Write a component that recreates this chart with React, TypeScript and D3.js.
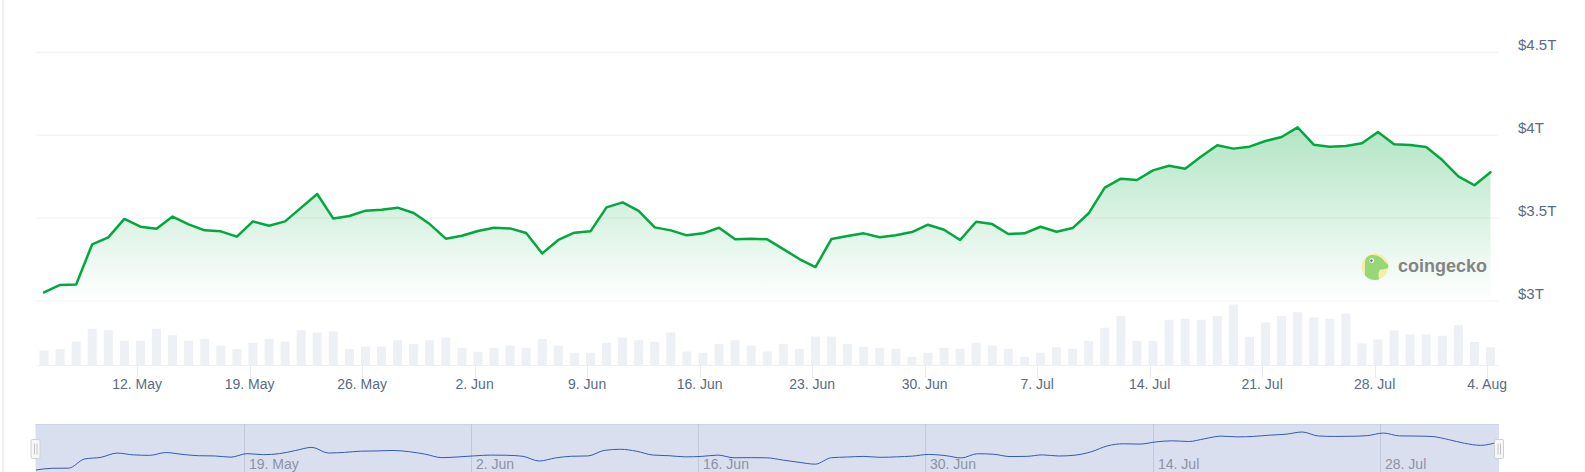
import React from "react";
import * as d3 from "d3";

// ---- DATA ----
const startDate = "2025-05-06T05:00:00Z"; // first daily observation
const marketCapT: number[] = [
  3.052, 3.097, 3.100, 3.342, 3.384, 3.495, 3.448, 3.436, 3.509, 3.462,
  3.426, 3.420, 3.388, 3.480, 3.454, 3.480, 3.563, 3.645, 3.497, 3.513,
  3.545, 3.551, 3.563, 3.531, 3.464, 3.376, 3.394, 3.422, 3.442, 3.438,
  3.410, 3.287, 3.368, 3.412, 3.420, 3.565, 3.595, 3.543, 3.444, 3.426,
  3.396, 3.408, 3.442, 3.372, 3.376, 3.372, 3.313, 3.253, 3.205, 3.374,
  3.392, 3.408, 3.384, 3.396, 3.416, 3.460, 3.430, 3.368, 3.478, 3.464,
  3.404, 3.408, 3.448, 3.418, 3.440, 3.529, 3.684, 3.738, 3.730, 3.788,
  3.816, 3.798, 3.871, 3.939, 3.919, 3.931, 3.965, 3.989, 4.047, 3.943,
  3.931, 3.935, 3.951, 4.019, 3.945, 3.941, 3.929, 3.850, 3.752, 3.698,
  3.776,
];
const volumeB: number[] = [
  58, 64, 93, 145, 139, 97, 97, 145, 119, 97,
  104, 78, 64, 89, 104, 93, 139, 130, 134, 64,
  73, 73, 99, 84, 99, 110, 69, 53, 69, 78,
  69, 104, 78, 49, 49, 89, 110, 99, 93, 130,
  54, 49, 84, 99, 78, 54, 84, 64, 114, 114,
  84, 73, 69, 64, 32, 49, 69, 64, 89, 78,
  64, 32, 49, 71, 65, 96, 149, 196, 96, 96,
  181, 185, 181, 196, 242, 113, 170, 196, 211, 190,
  185, 206, 86, 102, 138, 122, 122, 117, 160, 92,
  71,
];
const yTicks: number[] = [3, 3.5, 4, 4.5];
const yTickLabels: string[] = ["$3T", "$3.5T", "$4T", "$4.5T"];
const mainTickDates: string[] = [
  "2025-05-12", "2025-05-19", "2025-05-26", "2025-06-02", "2025-06-09",
  "2025-06-16", "2025-06-23", "2025-06-30", "2025-07-07", "2025-07-14",
  "2025-07-21", "2025-07-28", "2025-08-04",
];
const navTickDates: string[] = [
  "2025-05-19", "2025-06-02", "2025-06-16", "2025-06-30", "2025-07-14", "2025-07-28",
];

// ---- LAYOUT ----
const W = 1585;
const H = 472;
const PLOT_L = 36;
const PLOT_R = 1499;
const NAV_TOP = 424;

const fmt = d3.utcFormat("%-d. %b");
const FONT = "'Liberation Sans', Arial, sans-serif";

export default function App() {
  const t0 = new Date(startDate);
  const dates = marketCapT.map((_, i) => d3.utcDay.offset(t0, i));
  const data = dates.map((d, i) => ({ d, v: marketCapT[i], vol: volumeB[i] }));

  const x = d3.scaleUtc().domain([dates[0], dates[dates.length - 1]]).range([44, 1490.5]);
  const y = d3.scaleLinear().domain([3, 4.5]).range([301, 52.3]);
  const yv = d3.scaleLinear().domain([0, 256]).range([365, 301]);

  const nx = d3.scaleUtc().domain([dates[0], dates[dates.length - 1]]).range([36, 1497]);
  const ext = d3.extent(marketCapT) as [number, number];
  const ny = d3.scaleLinear().domain(ext).range([470, 432]);

  const line = d3.line<{ d: Date; v: number }>().x((p) => x(p.d)).y((p) => y(p.v));
  const area = d3
    .area<{ d: Date; v: number }>()
    .x((p) => x(p.d))
    .y0(y(3))
    .y1((p) => y(p.v));
  const navLine = d3.line<{ d: Date; v: number }>().x((p) => nx(p.d)).y((p) => ny(p.v)).curve(d3.curveMonotoneX);

  const barW = 9;

  return (
    <div style={{ position: "absolute", left: 0, top: 0, width: W, height: H }}>
      <svg width={W} height={H} style={{ display: "block", fontFamily: FONT }}>
        <defs>
          <linearGradient id="areaGrad" x1="0" y1="0" x2="0" y2="1">
            <stop offset="0%" stopColor="#00a83e" stopOpacity={0.3} />
            <stop offset="100%" stopColor="#00a83e" stopOpacity={0.0} />
          </linearGradient>
          <clipPath id="geckoClip">
            <circle cx={1375} cy={266.7} r={13.3} />
          </clipPath>
        </defs>
        <rect x={0} y={0} width={W} height={H} fill="#ffffff" />
        <rect x={2} y={0} width={2} height={H} fill="#edf1f6" />

        {/* grid lines */}
        {yTicks.map((t) => (
          <line key={t} x1={PLOT_L} x2={PLOT_R} y1={y(t)} y2={y(t)} stroke="#eff1f4" strokeWidth={1} />
        ))}

        {/* volume bars */}
        {data.map((p, i) => (
          <rect
            key={i}
            x={x(p.d) - barW / 2}
            y={yv(p.vol)}
            width={barW}
            height={yv(0) - yv(p.vol)}
            fill="#edf0f4"
          />
        ))}

        {/* x axis line and ticks */}
        <line x1={PLOT_L} x2={PLOT_R} y1={365.5} y2={365.5} stroke="#eef0f3" strokeWidth={1} />
        {mainTickDates.map((s) => {
          const d = new Date(s + "T00:00:00Z");
          const px = Math.round(x(d)) + 0.5;
          return (
            <g key={s}>
              <line x1={px} x2={px} y1={365} y2={378} stroke="#e6e9ee" strokeWidth={1} />
              <text x={x(d)} y={388.5} textAnchor="middle" fontSize={14} fill="#5b6a82">
                {fmt(d)}
              </text>
            </g>
          );
        })}

        {/* area + line */}
        <path d={area(data) || ""} fill="url(#areaGrad)" />
        <path d={line(data) || ""} fill="none" stroke="#00a83e" strokeWidth={2.5} strokeLinejoin="round" strokeLinecap="round" />

        {/* y labels */}
        {yTicks.map((t, i) => (
          <text key={t} x={1518} y={y(t) - 2} fontSize={15} fill="#5b6a82">
            {yTickLabels[i]}
          </text>
        ))}

        {/* watermark */}
        <g opacity={0.9}>
          <circle cx={1375} cy={266.7} r={13.3} fill="#f4eda2" />
          <path
            clipPath="url(#geckoClip)"
            d="M1365,282 L1365,263 C1365,257.5 1368.5,255 1373,255 C1378,255 1382,258 1385,262 L1390,266.5 C1387,269 1383,269.5 1380,269.5 C1378,272.5 1378,276 1380,282 Z"
            fill="#8fd46a"
          />
          <circle cx={1371.8} cy={260.6} r={2.3} fill="#ffffff" />
          <circle cx={1371.4} cy={260.6} r={1.3} fill="#6b6b6b" />
          <text x={1398} y={272} fontSize={18} fontWeight="bold" fill="#787878">
            coingecko
          </text>
        </g>

        {/* navigator */}
        <rect x={PLOT_L - 0.5} y={NAV_TOP} width={PLOT_R - PLOT_L + 0.5} height={H - NAV_TOP} fill="#d9dfef" />
        <line x1={PLOT_L - 0.5} x2={PLOT_R} y1={NAV_TOP + 0.5} y2={NAV_TOP + 0.5} stroke="#cdd4e6" strokeWidth={1} />
        {navTickDates.map((s) => {
          const d = new Date(s + "T00:00:00Z");
          const px = Math.round(nx(d)) + 0.5;
          return (
            <g key={s}>
              <line x1={px} x2={px} y1={NAV_TOP} y2={H} stroke="#c0c8da" strokeWidth={1} />
              <text x={px + 4.5} y={468.5} fontSize={14} fill="#8a93a5">
                {fmt(d)}
              </text>
            </g>
          );
        })}
        <path d={navLine(data) || ""} fill="none" stroke="#335cad" strokeWidth={1} />

        {/* handles */}
        {[PLOT_L - 0.5, PLOT_R].map((hx, i) => (
          <g key={i}>
            <rect x={hx - 4.5} y={439.5} width={9} height={19} rx={1.5} fill="#f7f7f7" stroke="#d0d0d0" strokeWidth={1} />
            <line x1={hx - 1} x2={hx - 1} y1={443.5} y2={454.5} stroke="#c4c4c4" strokeWidth={1} />
            <line x1={hx + 1.5} x2={hx + 1.5} y1={443.5} y2={454.5} stroke="#c4c4c4" strokeWidth={1} />
          </g>
        ))}
      </svg>
    </div>
  );
}
